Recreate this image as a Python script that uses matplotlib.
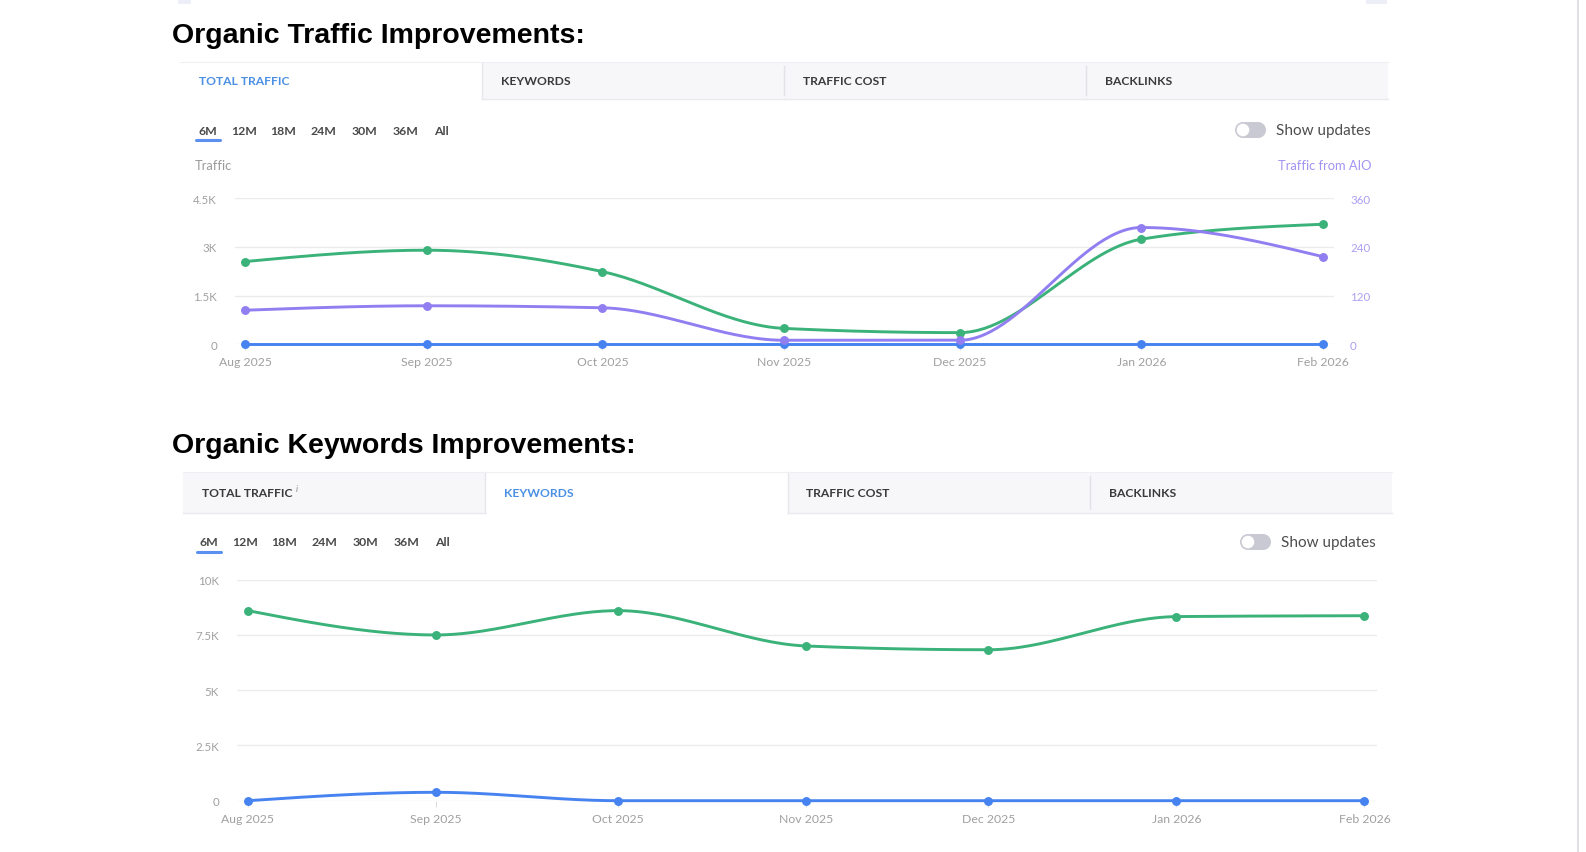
import numpy as np
import matplotlib
matplotlib.use("Agg")
import matplotlib.pyplot as plt
import matplotlib.dates as mdates
from matplotlib.patches import Rectangle, Circle
from datetime import datetime

# ---------------- data ----------------
month_dates = ["2025-08-01", "2025-09-01", "2025-10-01", "2025-11-01",
               "2025-12-01", "2026-01-01", "2026-02-01"]
month_labels = ["Aug 2025", "Sep 2025", "Oct 2025", "Nov 2025",
                "Dec 2025", "Jan 2026", "Feb 2026"]

traffic_total = [2550, 2900, 2240, 490, 360, 3240, 3700]
traffic_aio = [84, 95, 90, 10, 10, 288, 216]
traffic_blue = [0, 0, 0, 0, 0, 0, 0]

keywords_total = [8600, 7500, 8600, 7000, 6830, 8330, 8370]
keywords_blue = [0, 380, 0, 0, 0, 0, 0]

traffic_ticks = [0, 1500, 3000, 4500]
traffic_tick_labels = ["0", "1.5K", "3K", "4.5K"]
aio_ticks = [0, 120, 240, 360]
aio_tick_labels = ["0", "120", "240", "360"]
kw_ticks = [0, 2500, 5000, 7500, 10000]
kw_tick_labels = ["0", "2.5K", "5K", "7.5K", "10K"]

tab_labels = ["TOTAL TRAFFIC", "KEYWORDS", "TRAFFIC COST", "BACKLINKS"]
range_labels = ["6M", "12M", "18M", "24M", "30M", "36M", "All"]

# ---------------- style ----------------
W, H = 1586, 853
GREEN = "#3ab279"
PURPLE = "#917ef0"
BLUE = "#4683f0"
ACTIVE = "#4a8fe3"
UI = "Lato"
TITLE_FONT = "Liberation Sans"

fig = plt.figure(figsize=(W / 100, H / 100), dpi=100)
fig.patch.set_facecolor("white")

ov = fig.add_axes([0, 0, 1, 1])
ov.set_xlim(0, W)
ov.set_ylim(H, 0)
ov.axis("off")
ov.set_zorder(0)


def monotone_curve(x, y, n=60):
    x = np.asarray(x, float)
    y = np.asarray(y, float)
    h = np.diff(x)
    s = np.diff(y) / h
    m = np.zeros_like(y)
    for k in range(1, len(y) - 1):
        s0, s1 = s[k - 1], s[k]
        p = (s0 * h[k] + s1 * h[k - 1]) / (h[k - 1] + h[k])
        m[k] = (np.sign(s0) + np.sign(s1)) * min(abs(s0), abs(s1), 0.5 * abs(p))
    m[0] = (3 * s[0] - m[1]) / 2
    m[-1] = (3 * s[-1] - m[-2]) / 2
    xs, ys = [], []
    for k in range(len(h)):
        t = np.linspace(0, 1, n)
        h00 = 2 * t**3 - 3 * t**2 + 1
        h10 = t**3 - 2 * t**2 + t
        h01 = -2 * t**3 + 3 * t**2
        h11 = t**3 - t**2
        xs.append(x[k] + t * h[k])
        ys.append(h00 * y[k] + h10 * h[k] * m[k] + h01 * y[k + 1] + h11 * h[k] * m[k + 1])
    return np.concatenate(xs), np.concatenate(ys)


def add_axes_px(left, right, top, bottom):
    return fig.add_axes([left / W, 1 - bottom / H, (right - left) / W, (bottom - top) / H])


def draw_series(ax, xnum, vals, color, z):
    cx, cy = monotone_curve(xnum, vals)
    ax.plot(cx, cy, color=color, lw=2.1, solid_capstyle="round", clip_on=False, zorder=z)
    ax.plot(xnum, vals, "o", ms=5.4, color=color, mec=color, clip_on=False, zorder=z + 0.5)


def style_axes(ax, ticks, labels, pad_px):
    for sp in ax.spines.values():
        sp.set_visible(False)
    ax.set_facecolor("none")
    ax.set_yticks(ticks)
    ax.set_yticklabels(labels, fontfamily=UI, fontsize=8.3, color="#a0a0a0")
    ax.tick_params(axis="y", length=0, pad=pad_px * 0.72)
    ax.yaxis.grid(True, color="#ebebeb", lw=1.0)
    ax.set_axisbelow(True)


xnum = mdates.date2num([datetime.strptime(d, "%Y-%m-%d") for d in month_dates])


def set_xaxis(ax, pad_left_days, pad_right_days):
    ax.set_xlim(xnum[0] - pad_left_days, xnum[-1] + pad_right_days)
    ax.set_xticks(xnum)
    ax.set_xticklabels(month_labels, fontfamily=UI, fontsize=8.8, color="#a0a0a0")
    ax.tick_params(axis="x", length=4, width=0.8, color="#dddddd", pad=4.5)


def header(title, title_y, bar_top, bar_bot, bar_left, bar_right, active, btn_y, btn_dx,
           toggle_x, show_y, info=False):
    ov.text(172, title_y, title, fontfamily=TITLE_FONT, fontweight="bold",
            fontsize=20.5, color="black", va="center", ha="left")
    tw = (bar_right - bar_left) / 4.0
    for i, lab in enumerate(tab_labels):
        x0 = bar_left + i * tw
        if i != active:
            ov.add_patch(Rectangle((x0, bar_top), tw, bar_bot - bar_top,
                                   facecolor="#f7f7f9", edgecolor="none", zorder=1))
            ov.plot([x0, x0 + tw], [bar_bot, bar_bot], color="#e9e9ef", lw=1, zorder=2)
        ov.text(x0 + 19, (bar_top + bar_bot) / 2, lab, fontfamily=UI, fontweight="bold",
                fontsize=8.7, color=ACTIVE if i == active else "#3a3a3a",
                va="center", ha="left", zorder=3)
        if i == 0 and info:
            ov.text(x0 + 113, (bar_top + bar_bot) / 2 - 4, "i", fontfamily=UI,
                    style="italic", fontsize=6.5, color="#8a8a8a", va="center", zorder=3)
    ax_left = bar_left + active * tw
    ax_right = ax_left + tw
    if active > 0:
        ov.plot([ax_left, ax_left], [bar_top, bar_bot], color="#e6e6ec", lw=1, zorder=2)
    ov.plot([ax_right, ax_right], [bar_top, bar_bot], color="#e6e6ec", lw=1, zorder=2)
    for i in range(1, 4):
        xd = bar_left + i * tw
        if i != active and i != active + 1:
            ov.plot([xd, xd], [bar_top + 4, bar_bot - 4], color="#e2e2e8", lw=1, zorder=2)
    ov.plot([bar_left, bar_right], [bar_top, bar_top], color="#f0f0f4", lw=0.8, zorder=2)
    # range buttons
    centers = [208, 244.5, 283.5, 323.5, 364.5, 405.5, 441.5]
    for c, lab in zip(centers, range_labels):
        ov.text(c + btn_dx, btn_y, lab, fontfamily=UI, fontweight="bold", fontsize=8.8,
                color="#4a4a4a", va="center", ha="center")
    ov.plot([196 + btn_dx, 220 + btn_dx], [btn_y + 9.5, btn_y + 9.5], color="#5b8ff0",
            lw=2.2, solid_capstyle="round")
    # toggle
    tg = "#c9c9d3"
    ov.add_patch(Rectangle((toggle_x + 8, show_y - 8), 15, 16, facecolor=tg, edgecolor="none"))
    ov.add_patch(Circle((toggle_x + 8, show_y), 8, facecolor=tg, edgecolor="none"))
    ov.add_patch(Circle((toggle_x + 23, show_y), 8, facecolor=tg, edgecolor="none"))
    ov.add_patch(Circle((toggle_x + 8, show_y), 6.3, facecolor="white", edgecolor="none"))
    ov.text(toggle_x + 41, show_y, "Show updates", fontfamily=UI, fontsize=11,
            color="#4d4d4d", va="center", ha="left")


# page decorations
ov.add_patch(Rectangle((178, 0), 13, 5, facecolor="#eeeef8", edgecolor="none"))
ov.add_patch(Rectangle((1366, 0), 21, 5, facecolor="#eeeef8", edgecolor="none"))
ov.plot([1578, 1578], [0, H], color="#dcdce6", lw=1.3)

# ---------------- chart 1 ----------------
header("Organic Traffic Improvements:", 35.5, 63, 100, 180, 1388, 0, 131, 0, 1235, 131)
ov.text(195, 166, "Traffic", fontfamily=UI, fontsize=9.3, color="#9b9b9b",
        va="center", ha="left")
ov.text(1371, 166, "Traffic from AIO", fontfamily=UI, fontsize=9.3, color="#a193f2",
        va="center", ha="right")

ax1 = add_axes_px(235, 1334, 199.3, 345.3)
ax1.set_zorder(1)
ax1.set_ylim(0, 4500)
style_axes(ax1, traffic_ticks, traffic_tick_labels, 18)
set_xaxis(ax1, 1.71, 1.88)
ax1r = ax1.twinx()
ax1r.set_ylim(0, 360)
for sp in ax1r.spines.values():
    sp.set_visible(False)
ax1r.set_yticks(aio_ticks)
ax1r.set_yticklabels(aio_tick_labels, fontfamily=UI, fontsize=8.3, color="#ab9ff4")
ax1r.tick_params(axis="y", length=0, pad=16 * 0.72)
ax1r.set_xlim(ax1.get_xlim())

draw_series(ax1, xnum, traffic_total, GREEN, 3)
draw_series(ax1, xnum, traffic_blue, BLUE, 4)
draw_series(ax1r, xnum, traffic_aio, PURPLE, 3)

# ---------------- chart 2 ----------------
header("Organic Keywords Improvements:", 446, 473, 514, 183, 1392, 1, 543, 1, 1240, 543,
       info=True)

ax2 = add_axes_px(237, 1377, 580.7, 801.7)
ax2.set_zorder(1)
ax2.set_ylim(0, 10000)
style_axes(ax2, kw_ticks, kw_tick_labels, 18)
set_xaxis(ax2, 1.81, 2.06)
draw_series(ax2, xnum, keywords_total, GREEN, 3)
draw_series(ax2, xnum, keywords_blue, BLUE, 4)

fig.savefig("out.png", dpi=100, facecolor="white")
